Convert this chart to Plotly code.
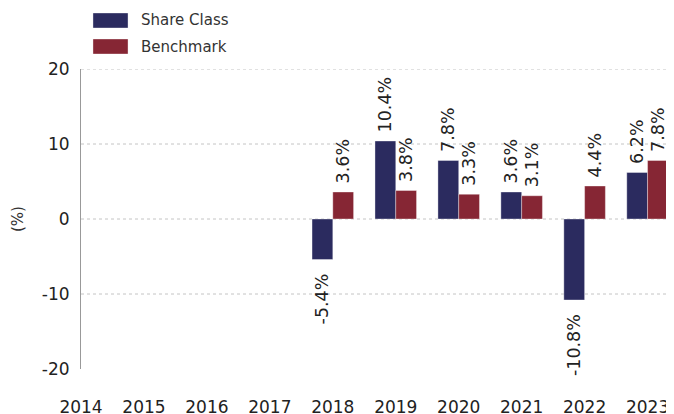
import plotly.graph_objects as go

years = [2014, 2015, 2016, 2017, 2018, 2019, 2020, 2021, 2022, 2023]
data_years = [2018, 2019, 2020, 2021, 2022, 2023]
share_class = [-5.4, 10.4, 7.8, 3.6, -10.8, 6.2]
benchmark = [3.6, 3.8, 3.3, 3.1, 4.4, 7.8]
series_names = ["Share Class", "Benchmark"]
y_ticks = [-20, -10, 0, 10, 20]
y_ticktext = ["-20", "-10", "0", "10", "20"]
grid_vals = [-10, 0, 10, 20]

NAVY = "#2b2b5f"
MAROON = "#862634"
FONT = "DejaVu Sans"
PAD = "\u00a0"


def label(v):
    # pad on the side facing the bar so the label sits a little off the bar end
    s = f"{v:.1f}%"
    return PAD + s if v >= 0 else s + PAD + PAD


fig = go.Figure()
for name, vals, col in [(series_names[0], share_class, NAVY), (series_names[1], benchmark, MAROON)]:
    fig.add_trace(go.Bar(
        x=data_years, y=vals, name=name,
        marker=dict(color=col, line=dict(color="rgba(255,255,255,0.6)", width=0.6)),
        text=[label(v) for v in vals],
        textposition="outside", textangle=-90, constraintext="none",
        cliponaxis=False,
        textfont=dict(family=FONT, size=17.5, color="#222222"),
        showlegend=False,
    ))

for g in grid_vals:
    fig.add_shape(type="line", xref="paper", x0=0, x1=1, yref="y", y0=g, y1=g,
                  line=dict(color="#c4c4c4", width=1, dash="dot"), layer="below")

# custom legend
leg_y = [(1.1867, 1.1367, 1.1617), (1.10, 1.05, 1.075)]
for (name, col), (ya, yb, yc) in zip([(series_names[0], NAVY), (series_names[1], MAROON)], leg_y):
    fig.add_shape(type="rect", xref="paper", yref="paper", x0=0.0202, x1=0.0793, y0=yb, y1=ya,
                  fillcolor=col, line=dict(color="rgba(255,255,255,0.6)", width=0.6))
    fig.add_annotation(xref="paper", yref="paper", x=0.097, y=yc, text=name, showarrow=False,
                       xanchor="left", yanchor="middle",
                       font=dict(family=FONT, size=15, color="#333333"))

# the page body adds an 8px offset, so the figure is 8px smaller and margins shifted
fig.update_layout(
    width=666, height=406,
    margin=dict(l=73, r=0, t=61, b=45, autoexpand=False),
    plot_bgcolor="white", paper_bgcolor="white",
    barmode="group", bargap=0.34, bargroupgap=0,
    font=dict(family=FONT, color="#222222"),
    xaxis=dict(range=[2014, 2023.42], tickvals=years, ticktext=[str(y) for y in years],
               showgrid=False, zeroline=False, showline=False, ticks="", automargin=False,
               ticklabelstandoff=26, tickfont=dict(size=17, color="#222222")),
    yaxis=dict(range=[-20, 20], tickvals=y_ticks, ticktext=y_ticktext, showgrid=False,
               zeroline=False, automargin=False,
               showline=True, linecolor="#999999", linewidth=1, ticks="",
               ticklabelstandoff=7, tickfont=dict(size=17, color="#222222"),
               title=dict(text="(%)", standoff=14, font=dict(size=15, color="#333333"))),
)

fig.write_html("out.html")
